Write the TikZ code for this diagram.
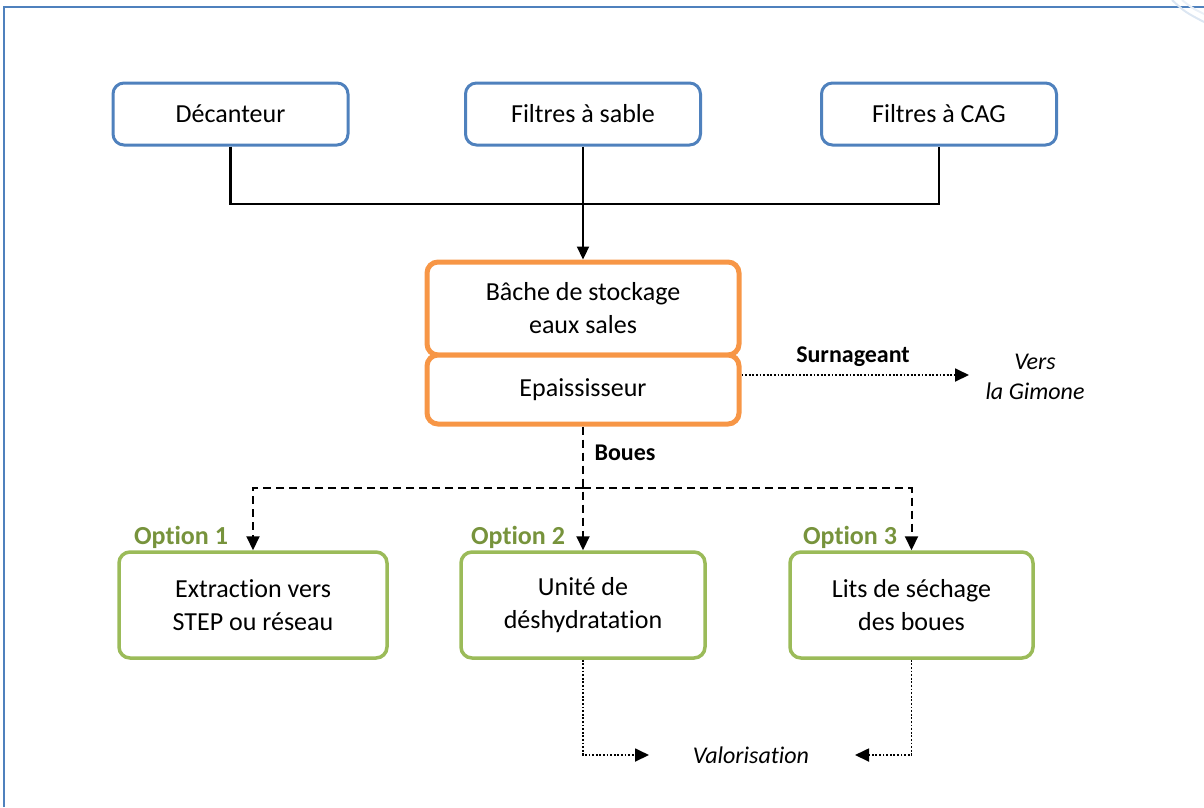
\documentclass[tikz,border=0pt]{standalone}
\usepackage{fontspec}
\setmainfont{Carlito}[Ligatures=NoCommon]
\usetikzlibrary{arrows.meta,calc}
\definecolor{fblue}{HTML}{4F81BD}
\definecolor{forange}{HTML}{F79646}
\definecolor{fgreen}{HTML}{9BBB59}
\definecolor{olivetext}{HTML}{77933C}
\begin{document}
\begin{tikzpicture}[x=1pt,y=-1pt,
  box/.style={draw, rounded corners=11pt, fill=white, align=center,
    font=\fontsize{26}{33}\selectfont, inner sep=0pt},
  bluebox/.style={box, draw=fblue, line width=3pt, minimum width=235pt, minimum height=62pt},
  orangebox/.style={box, draw=forange, line width=5pt, minimum width=312pt},
  greenbox/.style={box, draw=fgreen, line width=3.5pt, minimum height=106pt},
  lbl/.style={font=\fontsize{24}{30}\selectfont\bfseries, inner sep=0pt},
  itl/.style={font=\fontsize{24}{30}\selectfont\itshape, align=center, inner sep=0pt},
  opt/.style={font=\fontsize{26}{30}\selectfont\bfseries, text=olivetext, inner sep=0pt},
  tip/.style={-{Triangle[length=14pt,width=13pt]}},
  solidconn/.style={draw=black, line width=2.2pt},
  dashconn/.style={draw=black, line width=2pt, dash pattern=on 8pt off 5pt},
  dotconn/.style={draw=black, line width=1.8pt, dash pattern=on 1.8pt off 1.8pt}
]
\useasboundingbox (0,0) rectangle (1204,807);
% frame
\draw[fblue, line width=2.8pt] (4,807) -- (4,7) -- (1204,7);
\draw[fblue!20, line width=2pt] (1172,0) .. controls (1185,12) .. (1204,22);
\draw[fblue!12, line width=2pt] (1182,0) .. controls (1192,8) .. (1204,14);

% top boxes
\node[bluebox] (dec) at (230.5,114) {Décanteur};
\node[bluebox] (sab) at (583,114) {Filtres à sable};
\node[bluebox] (cag) at (939,114) {Filtres à CAG};

% orange boxes
\node[orangebox, minimum height=93pt] (bache) at (583,308.5) {Bâche de stockage\\eaux sales};
\node[orangebox, minimum height=69pt] (ep) at (583,389.5) {Epaississeur};

% green boxes
\node[greenbox, minimum width=268pt] (o1) at (253,605) {Extraction vers\\STEP ou réseau};
\node[greenbox, minimum width=244pt] (o2) at (583,605) {Unité de\\déshydratation};
\node[greenbox, minimum width=243pt] (o3) at (911.5,605) {Lits de séchage\\des boues};

% labels
\node[opt] (op1) at (181,537) {Option 1};
\node[opt] (op2) at (518,537) {Option 2};
\node[opt] (op3) at (850,537) {Option 3};
\node[lbl] (surn) at (853,357) {Surnageant};
\node[lbl] (boues) at (625,453) {Boues};
\node[itl] (gim) at (1035,377) {Vers\\la Gimone};
\node[itl] (val) at (751,755) {Valorisation};

% coordinates
\coordinate (tj) at (583,204);
\coordinate (bj) at (583,488);
\coordinate (gtip) at (969,375);
\coordinate (vl) at (649,755);
\coordinate (vr) at (855,755);

% connectors
\draw[solidconn] (dec.south) |- (tj) -| (cag.south);
\draw[solidconn, -{Triangle[length=13pt,width=12pt]}] (sab.south) -- (bache.north);
\draw[dotconn, tip] (ep.east |- gtip) -- (gtip);
\draw[dashconn, tip] (ep.south) -- (o2.north);
\draw[dashconn, tip] (bj) -| (o1.north);
\draw[dashconn, tip] (bj) -| (o3.north);
\draw[dotconn, tip] (o2.south) |- (vl);
\draw[dotconn, tip] (o3.south) |- (vr);
\end{tikzpicture}
\end{document}
